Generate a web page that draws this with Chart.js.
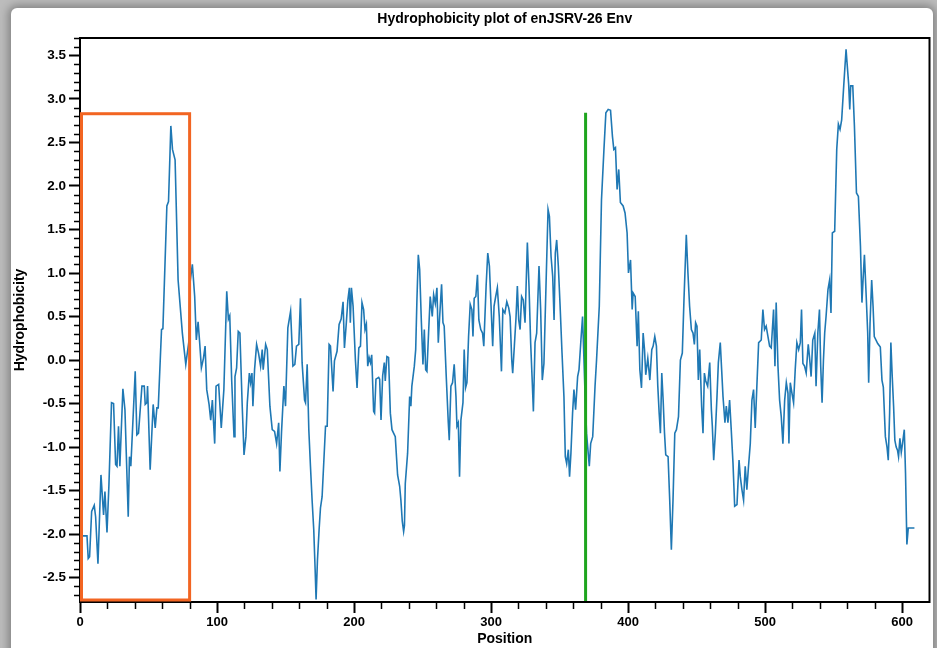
<!DOCTYPE html>
<html>
<head>
<meta charset="utf-8">
<title>Hydrophobicity plot</title>
<script src="https://cdn.jsdelivr.net/npm/chart.js@4.4.1/dist/chart.umd.min.js"></script>
<style>
  html, body { margin: 0; padding: 0; }
  body { width: 937px; height: 648px; overflow: hidden; background: #bcbcbc; position: relative; }
  #card { position: absolute; left: 11px; top: 8px; width: 922px; height: 700px; background: #fff;
          border-radius: 6px; box-shadow: 0 0 8px 3px rgba(0,0,0,0.3); }
  #wrap { position: absolute; left: 0; top: 0; width: 937px; height: 648px; }
</style>
</head>
<body>
<div id="card"></div>
<div id="wrap"><canvas id="hydroChart" width="937" height="648"></canvas></div>
<script>
/* ---------- Data ---------- */
const positions = [
  0, 5.1, 6, 7, 8.5, 10.4, 11.4, 13.1, 15.3, 17.2, 18.2, 19.7, 21.1, 23, 24.5, 26, 27, 28.1, 29.1, 31.3,
  32.8, 35.2, 36.1, 37.1, 40.3, 41.5, 42.7, 45.2, 46.9, 47.6, 48.8, 49.3, 51.2, 53.4, 54.9, 56.1, 57.1, 59.5,
  60.5, 63.4, 64.6, 66.3, 67.5, 69.4, 71.6, 74.7, 77.2, 79.6, 80.3,
  82, 83.7, 84.9, 86.2, 87.2, 88.6, 90.1, 91.3, 92.5, 94.2, 95.4, 96.6, 98.3, 99.3, 101.2, 103.1, 105, 107.1,
  108.3, 109.3, 110.7, 112.4, 113.1, 114.3, 115.5, 116.7, 118.4, 119.7, 121.1, 122.1, 123.6, 124.5, 125.5,
  126.2, 127.4, 128.9, 130.3, 131.8, 133, 133.7, 135.5, 136.7, 138.6, 140.3, 142, 143.5, 145, 145.9, 147.1,
  148.8, 150, 151.7, 153.7, 155.4, 156.8, 158, 159.7, 160.9,
  162.1, 163.9, 164.6, 165.8, 167, 168.2, 169.4, 170.6, 171.6, 172.3, 173.3, 174.5, 175.5, 176.7, 179.2,
  180.4, 181.8, 182.8, 184.7, 185.7, 187.6, 189.1, 190.6, 192, 193, 194.2, 195.5, 196.6, 197.3, 198.1, 199.3,
  201, 202.2, 203.5, 204.7, 205.8, 207, 208, 209, 210, 211, 212, 212.9, 214.3, 215, 216, 218, 218.7, 219.7,
  220.9, 222.1, 222.8, 224, 225.2, 226.5, 227.7, 230.1, 231.8, 233.3, 234.2, 235.2, 236.2, 236.8, 237.4,
  239.1, 240.6, 241.5, 242.2,
  244, 245, 245.9, 246.9, 247.9, 249.1, 250.3, 251.3, 252.3, 253.2, 254.4, 255.6, 257.1, 258.1, 259.3,
  260.5, 261.5, 262.5, 263.9, 264.9, 265.8, 267.3, 268.8, 269.5, 270.7, 271.9, 273.1, 274.4, 275.1, 276.1,
  277, 278, 279.5, 280.4, 281.4, 282.4, 283.6, 284.8, 286, 286.8, 287.7, 288.9, 290.1, 291.1, 292.5, 293.8,
  294.7, 296.4, 297.6, 298.8, 300, 301.2, 302.2, 303.4, 304.6, 306, 307.6, 308.6, 310.1, 311.5, 312.9,
  313.9, 315.1, 315.8, 317, 318.2, 319.2, 320.2, 321.2,
  322.3, 323.5, 324.8, 326.5, 327.7, 328.9, 330.1, 330.9, 332.1, 333.3, 335, 336.2, 337.4, 338.6, 340.1,
  341.6, 342.6, 343.8, 345, 346, 346.9, 347.9, 349.1, 350.4, 351.8, 353.2, 354.2, 355.2, 356.4, 357.3,
  358.3, 359.5, 360.5, 361.7, 363.2, 364.2, 365.6, 366.8, 368.5, 369.7, 370.9, 371.7, 372.7, 374.2, 375.9,
  377, 379, 380.6, 382.4, 383.8, 385.5, 387.2, 388.6, 389.6, 390.8, 392, 393.2, 394.4, 396.4, 397.8, 399.3,
  400.3, 401.8, 403,
  403.7, 405.2, 406.6, 407.5, 408.6, 409.8, 411, 412, 412.9, 414.4, 415.9, 417.3, 418.3, 419.5, 420.7,
  421.7, 422.7, 423.6, 424.6, 425.6, 426.6, 427.5, 429.2, 430.4, 431.6, 432.8, 434.1, 435.3, 436.8, 438.2,
  439.6, 440.8, 442.5, 443.7, 444.9, 446.2, 447.4, 448.4, 449.3, 450.3, 451.3, 452.3, 453.7, 454.7, 455.7,
  456.7, 458.1, 459.6, 460.8, 461.5, 462.5, 463.7, 464.9, 465.9, 467.3, 468.3, 469.3, 470.7, 471.7, 472.9,
  474.1, 475.3, 476.6, 477.8, 479.5,
  481, 481.9, 483.1, 484.3, 485.5, 486.7, 487.9, 489.2, 490.4, 491.6, 492.8, 494, 495.3, 497.2, 498.4,
  499.6, 500.8, 502.1, 503.3, 504.5, 506.2, 507.2, 508.1, 509.4, 510.6, 511.8, 513, 514.3, 515.5, 516.7,
  517.4, 518.4, 519.6, 520.8, 522, 523.2, 524.5, 525.7, 526.6, 527.6, 528.8, 530, 531.5, 532.4, 533.6,
  534.8, 536.3, 537.2, 538.5, 539.7, 540.6, 541.6, 542.6, 543.5, 544.5, 545.9, 547.1, 548.1,
  549.1, 550.8, 552.3, 553.5, 554.7, 555.9, 557.4, 559.1, 559.8, 561, 561.8, 562.5, 564, 565.2, 566.7,
  568.1, 569.6, 570.7, 571.5, 572.5, 573.7, 574.9, 575.6, 576.6, 577.8, 578.8, 579.7, 582.2, 584.1, 585.3,
  586.3, 587.8, 589, 589.9, 590.9, 591.8, 592.8, 593.8, 594.7, 595.7, 596.7, 597.4, 598.4, 599.4, 600.3,
  601.6, 602.5, 603.5, 604.5, 609
];

const hydro = [
  -2.02, -2.02, -2.28, -2.26, -1.74, -1.67, -1.80, -2.34, -1.32, -1.78, -1.51, -1.98, -1.44, -0.49, -0.50,
  -1.20, -1.22, -0.76, -1.22, -0.33, -0.57, -1.80, -1.11, -1.22, -0.13, -0.86, -0.84, -0.30, -0.30, -0.51,
  -0.49, -0.30, -1.26, -0.51, -0.78, -0.55, -0.55, 0.35, 0.36, 1.77, 1.82, 2.69, 2.42, 2.30, 0.92, 0.31,
  -0.05, 0.23, 0.89,
  1.10, 0.73, 0.23, 0.44, 0.23, -0.09, 0.02, 0.16, -0.34, -0.51, -0.69, -0.46, -0.96, -0.30, -0.28, -0.78,
  -0.34, 0.79, 0.47, 0.51, -0.23, -0.88, -0.19, -0.09, 0.33, 0.31, -0.53, -1.09, -0.88, -0.49, -0.15, -0.26,
  -0.15, -0.53, -0.11, 0.18, 0.08, -0.07, 0.12, -0.11, 0.18, 0.12, -0.53, -0.80, -0.82, -0.96, -0.72, -1.28,
  -0.82, -0.30, -0.53, 0.37, 0.56, -0.07, -0.05, 0.16, 0.18, 0.71,
  -0.03, -0.46, -0.49, -0.05, -0.80, -1.22, -1.61, -1.95, -2.40, -2.75, -2.30, -1.95, -1.70, -1.57, -0.76,
  -0.76, 0.18, 0.16, -0.36, -0.01, 0.10, 0.41, 0.47, 0.67, 0.14, 0.39, 0.69, 0.83, 0.43, 0.83, 0.62,
  0.00, -0.32, 0.14, 0.16, 0.66, 0.58, 0.35, 0.41, -0.07, 0.03, -0.03, 0.06, -0.59, -0.61, -0.22, -0.20,
  -0.22, -0.69, -0.18, -0.03, -0.24, 0.04, 0.03, -0.61, -0.80, -0.88, -1.32, -1.45, -1.61, -1.85, -1.97,
  -1.90, -1.42, -1.07, -0.42, -0.53, -0.30,
  -0.07, 0.12, 0.69, 1.21, 1.04, 0.46, -0.05, 0.35, -0.11, -0.13, 0.31, 0.73, 0.50, 0.75, 0.65, 0.83,
  0.20, 0.50, 0.87, 0.43, 0.39, -0.19, -0.72, -0.92, -0.30, -0.26, -0.05, -0.42, -0.76, -0.72, -1.34,
  -0.69, -0.49, 0.12, -0.32, -0.26, 0.27, 0.64, 0.58, 0.27, 0.71, 0.73, 0.98, 0.46, 0.35, 0.31, 0.16,
  0.85, 1.23, 1.08, 0.62, 0.16, 0.62, 0.73, 0.83, 0.50, -0.13, 0.58, 0.54, 0.67, 0.60, 0.50, 0.00, -0.15,
  0.16, 0.48, 0.85, 0.46, 0.35,
  0.73, 0.69, 0.43, 1.35, 0.85, 0.20, -0.26, -0.59, 0.20, 0.31, 1.08, 0.58, -0.23, -0.04, 0.85, 1.73,
  1.65, 1.19, 0.96, 0.46, 1.23, 1.38, 1.08, 0.62, 0.08, -0.42, -1.11, -1.19, -1.03, -1.34, -1.07, -0.61,
  -0.34, -0.57, -0.19, -0.11, 0.23, 0.50, -0.34, -0.84, -1.07, -1.22, -0.96, -0.88, -0.30, 0.00, 0.62,
  1.84, 2.42, 2.84, 2.88, 2.87, 2.57, 2.42, 2.44, 1.96, 2.19, 1.81, 1.77, 1.69, 1.46, 1.00, 1.15, 0.58,
  0.77, 0.73, 0.16, 0.56, -0.11, -0.32, 0.31, 0.12, -0.17, 0.02, -0.23, 0.12, 0.16, 0.27, 0.16, -0.30,
  -0.61, -0.84, -0.15, -0.46, -0.84, -1.09, -1.11, -1.61, -2.18, -1.61, -0.84, -0.80, -0.65, 0.00, 0.08,
  0.69, 1.44, 1.00, 0.62, 0.35, 0.31, 0.18, 0.43, 0.39, -0.23, 0.12, -0.53, -0.84, -0.15, -0.24, -0.30,
  -0.03, -0.57, -0.76, -1.15, -0.84, -0.42, -0.03, 0.20, -0.11, -0.42, -0.72, -0.53, -0.72, -0.46, -0.80,
  -1.19, -1.68, -1.66,
  -1.15, -1.34, -1.49, -1.61, -1.22, -1.49, -1.22, -0.96, -0.46, -0.34, -0.78, -0.30, 0.20, 0.23, 0.58,
  0.35, 0.39, 0.27, 0.16, 0.14, 0.58, -0.07, 0.66, -0.07, -0.46, -0.65, -0.96, -0.46, -0.26, -0.38, -0.96,
  -0.26, -0.38, -0.49, -0.11, 0.20, 0.12, 0.20, 0.58, -0.04, -0.07, -0.15, 0.18, 0.04, -0.19, 0.23, 0.31,
  -0.30, 0.31, 0.58, -0.07, -0.49, 0.00, 0.31, 0.50, 0.81, 0.92, 0.54,
  1.46, 1.48, 2.42, 2.71, 2.65, 2.76, 3.15, 3.57, 3.42, 3.17, 2.88, 3.15, 3.15, 2.69, 1.92, 1.88, 1.31,
  0.66, 0.92, 1.21, 0.77, 0.31, -0.26, 0.42, 0.92, 0.62, 0.27, 0.19, 0.15, -0.23, -0.31, -0.88, -1.00,
  -1.15, -0.61, 0.20, -0.19, -0.53, -0.92, -1.00, -1.04, -1.11, -0.90, -1.06, -0.96, -0.80, -1.30, -2.12,
  -1.93, -1.93
];

const xRange = [0, 620];
const yRange = [-2.78, 3.70];
const xMajorTicks = [0, 100, 200, 300, 400, 500, 600];
const yMajorTicks = [-2.5, -2.0, -1.5, -1.0, -0.5, 0.0, 0.5, 1.0, 1.5, 2.0, 2.5, 3.0, 3.5];

// highlighted regions
const boxRegion = { from: 0, to: 80, top: 2.83 };
const markerPos = 369;
const markerTop = 2.84;

const chartTitle = "Hydrophobicity plot of enJSRV-26 Env";
const FONT = "'Liberation Sans', Arial, Helvetica, sans-serif";

/* ---------- Helpers ---------- */
function minorValues(min, max, step, major) {
  const out = [];
  for (let v = Math.ceil(min / step) * step; v <= max + 1e-9; v += step) {
    const r = Math.round(v * 100) / 100;
    if (!major.some(m => Math.abs(m - r) < 1e-6)) out.push(r);
  }
  return out;
}

/* ---------- Decorations ---------- */
const decorPlugin = {
  id: "decor",
  afterDraw(chart) {
    const { ctx, chartArea: a, scales: { x, y } } = chart;
    ctx.save();

    // frame
    ctx.strokeStyle = "#000";
    ctx.lineWidth = 2;
    ctx.strokeRect(a.left, a.top, a.right - a.left, a.bottom - a.top);

    // minor ticks
    ctx.lineWidth = 1.5;
    ctx.beginPath();
    minorValues(yRange[0], yRange[1], 0.1, yMajorTicks).forEach(v => {
      const py = Math.round(y.getPixelForValue(v)) + 0.5;
      ctx.moveTo(a.left, py);
      ctx.lineTo(a.left - 6, py);
    });
    minorValues(0, 600, 20, xMajorTicks).forEach(v => {
      const px = Math.round(x.getPixelForValue(v)) + 0.5;
      ctx.moveTo(px, a.bottom);
      ctx.lineTo(px, a.bottom + 7);
    });
    ctx.stroke();

    // orange box
    ctx.strokeStyle = "#f26522";
    ctx.lineWidth = 3;
    const bx0 = x.getPixelForValue(boxRegion.from) + 1.5;
    const bx1 = x.getPixelForValue(boxRegion.to);
    const by0 = y.getPixelForValue(boxRegion.top);
    const by1 = a.bottom - 2;
    ctx.strokeRect(bx0, by0, bx1 - bx0, by1 - by0);

    // green marker
    ctx.strokeStyle = "#1ea51e";
    ctx.lineWidth = 3;
    ctx.beginPath();
    ctx.moveTo(x.getPixelForValue(markerPos), y.getPixelForValue(markerTop));
    ctx.lineTo(x.getPixelForValue(markerPos), a.bottom - 1);
    ctx.stroke();

    // title
    ctx.fillStyle = "#000";
    ctx.font = "bold 14px " + FONT;
    ctx.textAlign = "center";
    ctx.textBaseline = "middle";
    ctx.fillText(chartTitle, (a.left + a.right) / 2, 19);
    ctx.restore();
  }
};

/* ---------- Chart ---------- */
const points = positions.map((p, i) => ({ x: p, y: hydro[i] }));

new Chart(document.getElementById("hydroChart"), {
  type: "line",
  data: {
    datasets: [{
      label: "Hydrophobicity",
      data: points,
      borderColor: "#1f78b4",
      borderWidth: 1.6,
      pointRadius: 0,
      tension: 0,
      fill: false
    }]
  },
  options: {
    responsive: false,
    animation: false,
    events: [],
    layout: { padding: { left: 0, right: 7.5, top: 38, bottom: 0 } },
    plugins: { legend: { display: false }, tooltip: { enabled: false } },
    scales: {
      x: {
        type: "linear",
        min: xRange[0],
        max: xRange[1],
        afterBuildTicks: s => { s.ticks = xMajorTicks.map(v => ({ value: v })); },
        afterFit: s => { s.height = 46; },
        border: { display: false },
        grid: { drawOnChartArea: false, drawTicks: true, tickLength: 11, tickWidth: 2, tickColor: "#000" },
        ticks: {
          color: "#000",
          padding: 2,
          maxRotation: 0,
          font: { family: FONT, size: 13, weight: "bold" },
          callback: v => String(v)
        },
        title: {
          display: true,
          text: "Position",
          color: "#000",
          padding: { top: 0, bottom: 0 },
          font: { family: FONT, size: 14, weight: "bold" }
        }
      },
      y: {
        type: "linear",
        min: yRange[0],
        max: yRange[1],
        afterBuildTicks: s => { s.ticks = yMajorTicks.map(v => ({ value: v })); },
        afterFit: s => { s.width = 80; },
        border: { display: false },
        grid: { drawOnChartArea: false, drawTicks: true, tickLength: 11, tickWidth: 2, tickColor: "#000" },
        ticks: {
          color: "#000",
          padding: 3,
          font: { family: FONT, size: 13.5, weight: "bold" },
          callback: v => v.toFixed(1)
        },
        title: {
          display: true,
          text: "Hydrophobicity",
          color: "#000",
          padding: { top: 12, bottom: 0 },
          font: { family: FONT, size: 14, weight: "bold" }
        }
      }
    }
  },
  plugins: [decorPlugin]
});
</script>
</body>
</html>
